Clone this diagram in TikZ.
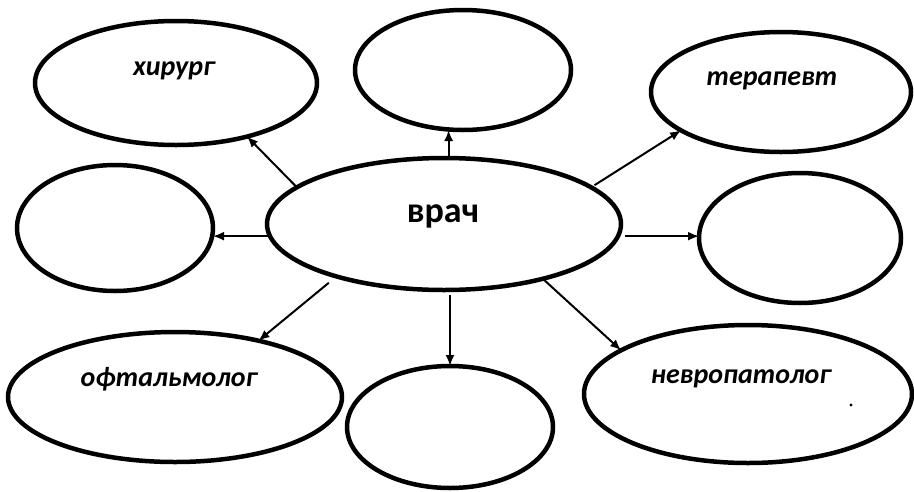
\documentclass[tikz,border=0pt]{standalone}
\usepackage{fontspec}
\setmainfont{Carlito}
\usetikzlibrary{shapes.geometric,arrows.meta}
\begin{document}
\begin{tikzpicture}[x=1pt,y=-1pt,
  oval/.style={ellipse, draw, line width=4.5pt, inner sep=0pt, outer sep=0pt},
  lbl/.style={font=\fontsize{28}{32}\selectfont\bfseries\itshape, anchor=base, inner sep=0pt},
  mainlbl/.style={font=\fontsize{36}{40}\selectfont\bfseries, anchor=base, inner sep=0pt},
  arr/.style={-{Latex[length=11pt,width=9pt]}, line width=2pt}]
\useasboundingbox (0,0) rectangle (914,491);
% ovals
\node[oval, minimum width=282pt, minimum height=124pt] (hir) at (176,83) {};
\node[oval, minimum width=216pt, minimum height=120pt] (top) at (463,70) {};
\node[oval, minimum width=260pt, minimum height=120pt] (ter) at (781,92) {};
\node[oval, minimum width=196pt, minimum height=126pt] (left) at (115,228) {};
\node[oval, minimum width=354pt, minimum height=132pt] (vrach) at (444,224) {};
\node[oval, minimum width=202pt, minimum height=130pt] (right) at (800,238) {};
\node[oval, minimum width=334pt, minimum height=130pt] (oft) at (175,397) {};
\node[oval, minimum width=206pt, minimum height=122pt] (bot) at (450,427) {};
\node[oval, minimum width=328pt, minimum height=138pt] (nevr) at (748,394) {};
% texts
\node[lbl] (thir) at (174,75) {хирург};
\node[lbl] (tter) at (772,85) {терапевт};
\node[mainlbl] (tvrach) at (443,222) {врач};
\node[lbl] (toft) at (169,386) {офтальмолог};
\node[lbl] (tnevr) at (741,383) {невропатолог};
% arrows
\draw[arr] (vrach.166) -- (hir.-37);
\draw[arr] (vrach.86) -- (top.south -| vrach.86);
\draw[arr, shorten <=4pt] (vrach.14) -- (ter.201);
\draw[arr] (vrach.184) -- (left.east |- vrach.184);
\draw[arr, shorten <=7pt] (vrach.-4) -- (right.west |- vrach.-4);
\draw[arr, shorten <=10pt] (vrach.206) -- (oft.34);
\draw[arr, shorten <=5pt] (bot.north |- vrach.south) -- (bot.north);
\draw[arr] (vrach.-29) -- (nevr.161);
% stray dot
\fill (851,405) circle (1.6pt);
\end{tikzpicture}
\end{document}
